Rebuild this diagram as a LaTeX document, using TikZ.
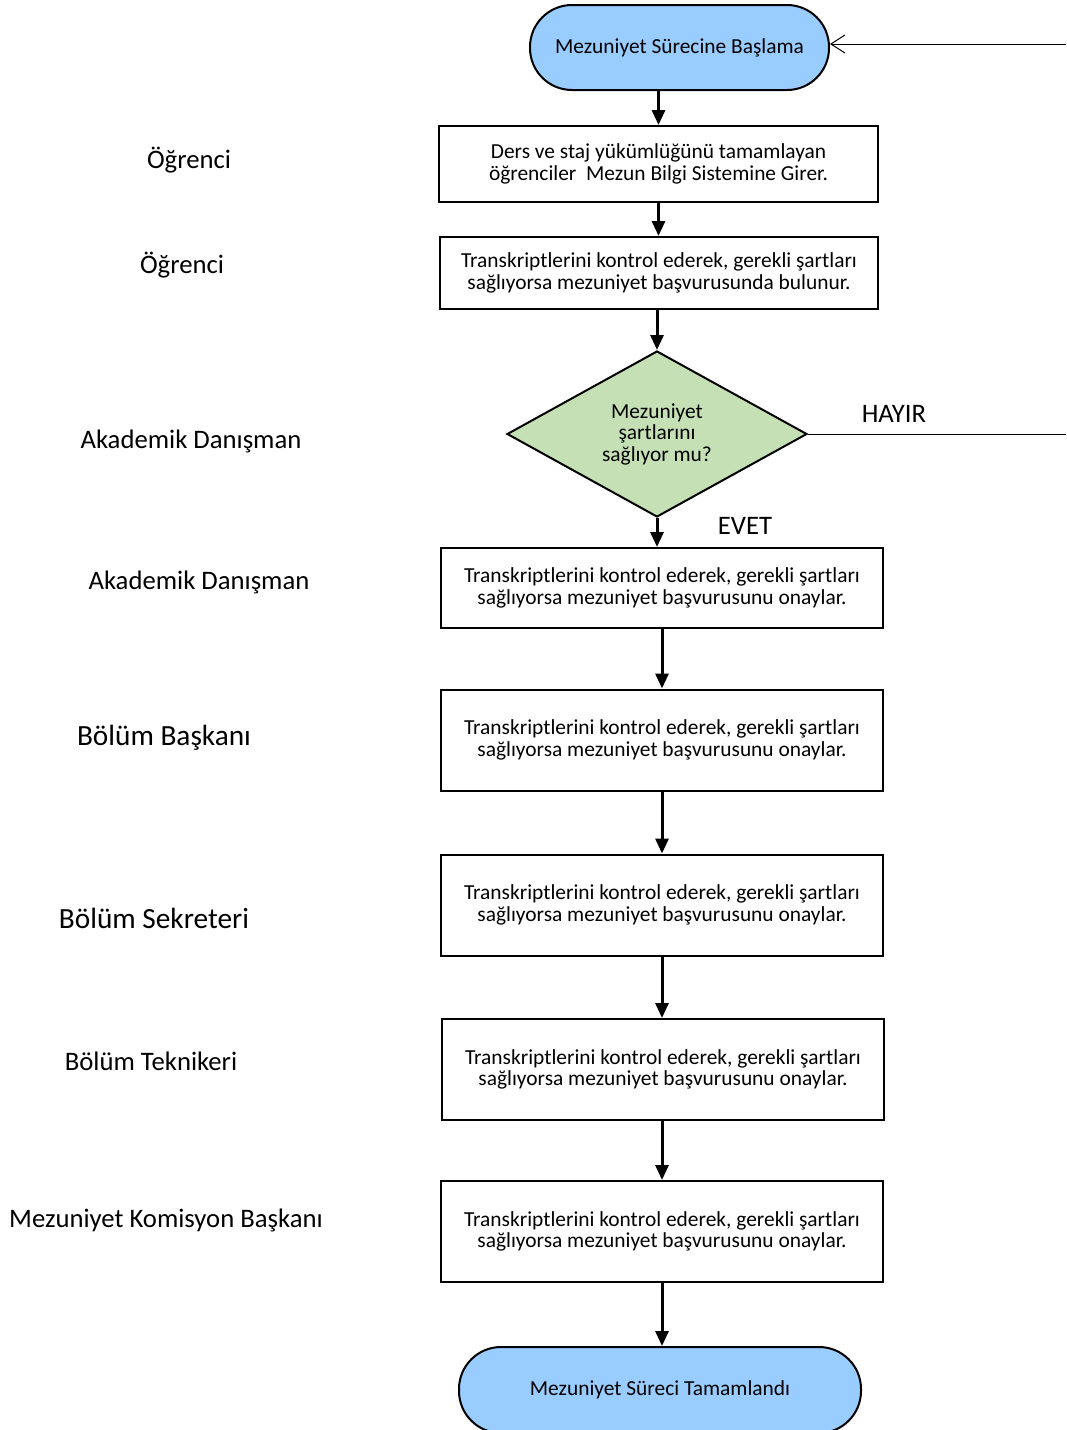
\documentclass[tikz,border=0pt]{standalone}
\usepackage{fontspec}
\setmainfont{Carlito}
\usetikzlibrary{arrows.meta,shapes.geometric}
\definecolor{termblue}{HTML}{99CCFF}
\definecolor{decgreen}{HTML}{C5E0B4}
\begin{document}
\begin{tikzpicture}[x=1pt,y=-1pt,
  boxtext/.style={font=\fontsize{21.4}{21.5}\selectfont, align=center},
  procbox/.style={boxtext, draw, line width=2pt, minimum width=442, minimum height=101, inner sep=0pt},
  term/.style={boxtext, draw, line width=2pt, fill=termblue, rounded corners=42pt, inner sep=0pt},
  dec/.style={boxtext, diamond, draw, line width=2pt, fill=decgreen, minimum width=300, minimum height=166, inner sep=0pt, aspect=1.8},
  role/.style={font=\fontsize{26.7}{30}\selectfont},
  bigrole/.style={font=\fontsize{29.3}{32}\selectfont},
  arr/.style={line width=3pt, -{Triangle[length=15pt,width=13pt]}},
  thin/.style={line width=1pt}
]
\useasboundingbox (0,0) rectangle (1066,1430);

\node[term, minimum width=299, minimum height=85] (start) at (679.5,47.5) {Mezuniyet Sürecine Başlama};
\node[procbox, minimum width=439, minimum height=76] (b1) at (658.5,164) {Ders ve staj yükümlüğünü tamamlayan\\öğrenciler~~Mezun Bilgi Sistemine Girer.};
\node[procbox, minimum width=438, minimum height=72] (b2) at (659,273) {Transkriptlerini kontrol ederek, gerekli şartları\\sağlıyorsa mezuniyet başvurusunda bulunur.};
\node[dec] (d) at (657,434) {Mezuniyet\\şartlarını\\sağlıyor mu?};
\node[procbox, minimum height=80] (b3) at (662,588) {Transkriptlerini kontrol ederek, gerekli şartları\\sağlıyorsa mezuniyet başvurusunu onaylar.};
\node[procbox] (b4) at (662,740) {Transkriptlerini kontrol ederek, gerekli şartları\\sağlıyorsa mezuniyet başvurusunu onaylar.};
\node[procbox] (b5) at (662,905) {Transkriptlerini kontrol ederek, gerekli şartları\\sağlıyorsa mezuniyet başvurusunu onaylar.};
\node[procbox] (b6) at (663,1069.5) {Transkriptlerini kontrol ederek, gerekli şartları\\sağlıyorsa mezuniyet başvurusunu onaylar.};
\node[procbox] (b7) at (662,1231.5) {Transkriptlerini kontrol ederek, gerekli şartları\\sağlıyorsa mezuniyet başvurusunu onaylar.};
\node[term, minimum width=402, minimum height=86] (end) at (660,1390) {Mezuniyet Süreci Tamamlandı};

\coordinate (inR) at (1066,44);
\coordinate (noR) at (1066,434);

\draw[thin, -{Straight Barb[length=14pt,width=18pt]}] (inR) -- (inR -| start.east);
\draw[thin] (d.east) -- (noR);
\node[role] (hayir) at (894,414) {HAYIR};
\node[role] (evet) at (745,526) {EVET};

\draw[arr] (start.south -| b1.north) -- (b1.north);
\draw[arr] (b1.south) -- (b1.south |- b2.north);
\draw[arr] (b2.south -| d.north) -- (d.north);
\draw[arr] (d.south) -- (d.south |- b3.north);
\draw[arr] (b3.south) -- (b4.north);
\draw[arr] (b4.south) -- (b5.north);
\draw[arr] (b5.south) -- (b5.south |- b6.north);
\draw[arr] (b6.south -| b7.north) -- (b7.north);
\draw[arr] (b7.south) -- (b7.south |- end.north);

\node[role] (r1) at (189,160) {Öğrenci};
\node[role] (r2) at (182,265) {Öğrenci};
\node[role] (r3) at (191,441) {Akademik Danışman};
\node[role] (r4) at (199,582) {Akademik Danışman};
\node[bigrole] (r5) at (164,738) {Bölüm Başkanı};
\node[bigrole] (r6) at (154,918) {Bölüm Sekreteri};
\node[role] (r7) at (151,1061) {Bölüm Teknikeri};
\node[role] (r8) at (166,1220) {Mezuniyet Komisyon Başkanı};
\end{tikzpicture}
\end{document}
